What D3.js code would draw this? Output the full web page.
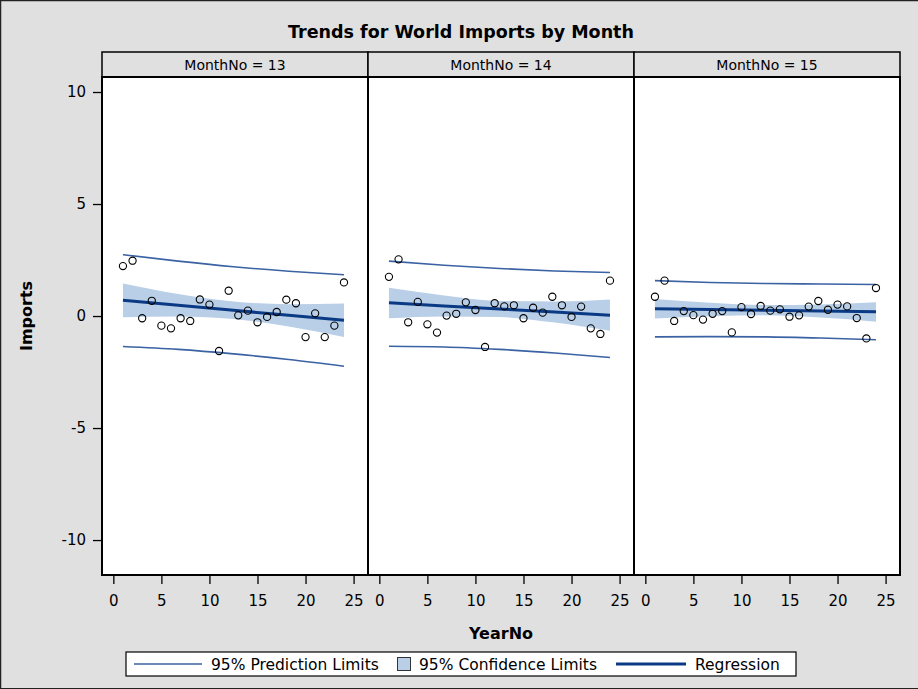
<!DOCTYPE html>
<html>
<head>
<meta charset="utf-8">
<script src="https://cdn.jsdelivr.net/npm/d3@7"></script>
<style>
  body { margin: 0; background: #e0e0e0; }
  svg { display: block; }
  text { font-family: "DejaVu Sans", sans-serif; fill: #000; }
</style>
</head>
<body>
<svg id="chart" width="918" height="689"></svg>
<script>
// ---------------- DATA ----------------
const monthNos = [13, 14, 15];
const yearNo = [1,2,3,4,5,6,7,8,9,10,11,12,13,14,15,16,17,18,19,20,21,22,23,24];

const imports13 = [2.23, 2.47, -0.10, 0.68, -0.43, -0.55, -0.10, -0.22, 0.74, 0.51, -1.56, 1.13,
                   0.03, 0.24, -0.28, -0.04, 0.18, 0.73, 0.57, -0.94, 0.12, -0.94, -0.43, 1.50];
const imports14 = [1.75, 2.53, -0.28, 0.63, -0.37, -0.74, 0.02, 0.10, 0.61, 0.27, -1.38, 0.57,
                   0.43, 0.48, -0.10, 0.37, 0.15, 0.86, 0.48, -0.04, 0.42, -0.55, -0.80, 1.58];
const imports15 = [0.86, 1.58, -0.22, 0.22, 0.04, -0.16, 0.10, 0.22, -0.73, 0.40, 0.09, 0.45,
                   0.24, 0.30, -0.03, 0.03, 0.42, 0.67, 0.28, 0.51, 0.43, -0.09, -1.00, 1.25];

// fit / limits read at these YearNo positions
const fitYears = [1, 6.75, 12.5, 18.25, 24];

const fit13     = [0.70, 0.48, 0.255, 0.03, -0.19];
const clUpper13 = [1.45, 0.98, 0.645, 0.53, 0.56];
const clLower13 = [-0.05, -0.02, -0.135, -0.47, -0.94];
const plUpper13 = [2.74, 2.45, 2.20, 2.00, 1.84];
const plLower13 = [-1.36, -1.49, -1.69, -1.94, -2.24];

const fit14     = [0.59, 0.45, 0.315, 0.18, 0.04];
const clUpper14 = [1.26, 0.92, 0.675, 0.65, 0.74];
const clLower14 = [-0.10, -0.02, -0.045, -0.29, -0.66];
const plUpper14 = [2.45, 2.27, 2.12, 2.01, 1.94];
const plLower14 = [-1.35, -1.38, -1.49, -1.65, -1.85];

const fit15     = [0.33, 0.295, 0.26, 0.225, 0.19];
const clUpper15 = [0.76, 0.59, 0.49, 0.52, 0.62];
const clLower15 = [-0.11, -0.01, 0.03, -0.07, -0.25];
const plUpper15 = [1.58, 1.50, 1.45, 1.43, 1.41];
const plLower15 = [-0.93, -0.92, -0.93, -0.98, -1.06];

const xTicks = [0, 5, 10, 15, 20, 25];
const yTicks = [-10, -5, 0, 5, 10];
const legendLabels = ["95% Prediction Limits", "95% Confidence Limits", "Regression"];
const titleText = "Trends for World Imports by Month";

// ---------------- BUILD ----------------
const panels = [
  { month: 13, y: imports13, fit: fit13, clu: clUpper13, cll: clLower13, plu: plUpper13, pll: plLower13 },
  { month: 14, y: imports14, fit: fit14, clu: clUpper14, cll: clLower14, plu: plUpper14, pll: plLower14 },
  { month: 15, y: imports15, fit: fit15, clu: clUpper15, cll: clLower15, plu: plUpper15, pll: plLower15 }
];

const C = {
  bg: "#e0e0e0",
  band: "#b9cfe7",
  pl: "#3b62a3",
  fit: "#0b3a85"
};

const fmt = d => String(d);   // plain hyphen-minus like the reference

const svg = d3.select("#chart");
const W = 918, H = 689;

svg.append("rect").attr("x", 0).attr("y", 0).attr("width", W).attr("height", H).attr("fill", C.bg);
// outer frame
svg.append("path").attr("d", `M0.5,${H-0.5} V0.5 H${W}`).attr("fill", "none").attr("stroke", "#222").attr("stroke-width", 1.5);
svg.append("line").attr("x1", 0).attr("x2", W).attr("y1", H - 0.5).attr("y2", H - 0.5).attr("stroke", "#222").attr("stroke-width", 1);

const gridLeft = 102, gridRight = 900;
const headerTop = 52, plotTop = 77, plotBottom = 575;
const panelW = (gridRight - gridLeft) / monthNos.length;

const y = d3.scaleLinear().domain([-11.56, 10.67]).range([plotBottom, plotTop]);

// title
svg.append("text").attr("x", 461).attr("y", 38).attr("text-anchor", "middle")
  .attr("font-size", 17.5).attr("font-weight", "bold").text(titleText);

panels.forEach((p, i) => {
  const left = gridLeft + i * panelW;
  const x = d3.scaleLinear().domain([-1.18, 26.5]).range([left, left + panelW]);
  const g = svg.append("g");

  const clipId = "clip" + i;
  svg.append("clipPath").attr("id", clipId).append("rect")
    .attr("x", left).attr("y", plotTop).attr("width", panelW).attr("height", plotBottom - plotTop);

  // header cell
  g.append("rect").attr("x", left).attr("y", headerTop).attr("width", panelW).attr("height", plotTop - headerTop)
    .attr("fill", C.bg).attr("stroke", "#000").attr("stroke-width", 1.5);
  g.append("text").attr("x", left + panelW / 2).attr("y", (headerTop + plotTop) / 2 + 5)
    .attr("text-anchor", "middle").attr("font-size", 14).text(`MonthNo = ${p.month}`);

  // plot area
  g.append("rect").attr("x", left).attr("y", plotTop).attr("width", panelW).attr("height", plotBottom - plotTop)
    .attr("fill", "#fff");

  const inner = g.append("g").attr("clip-path", `url(#${clipId})`);
  const rows = fitYears.map((yr, k) => ({ yr, fit: p.fit[k], clu: p.clu[k], cll: p.cll[k], plu: p.plu[k], pll: p.pll[k] }));

  inner.append("path").datum(rows)
    .attr("fill", C.band)
    .attr("d", d3.area().x(d => x(d.yr)).y0(d => y(d.cll)).y1(d => y(d.clu)).curve(d3.curveMonotoneX));

  ["plu", "pll"].forEach(key => {
    inner.append("path").datum(rows)
      .attr("fill", "none").attr("stroke", C.pl).attr("stroke-width", 1.6)
      .attr("d", d3.line().x(d => x(d.yr)).y(d => y(d[key])).curve(d3.curveMonotoneX));
  });

  inner.append("path").datum(rows)
    .attr("fill", "none").attr("stroke", C.fit).attr("stroke-width", 3)
    .attr("d", d3.line().x(d => x(d.yr)).y(d => y(d.fit)));

  inner.selectAll("circle.pt").data(yearNo.map((yr, k) => ({ yr, v: p.y[k] })))
    .join("circle").attr("class", "pt")
    .attr("cx", d => x(d.yr)).attr("cy", d => y(d.v)).attr("r", 3.6)
    .attr("fill", "none").attr("stroke", "#000").attr("stroke-width", 1.1);

  // border of plot cell
  g.append("rect").attr("x", left).attr("y", plotTop).attr("width", panelW).attr("height", plotBottom - plotTop)
    .attr("fill", "none").attr("stroke", "#000").attr("stroke-width", 2);

  // x axis
  const xa = g.append("g").attr("transform", `translate(0,${plotBottom + 1})`)
    .call(d3.axisBottom(x).tickValues(xTicks).tickSize(8).tickPadding(11).tickFormat(fmt));
  xa.select(".domain").remove();
  xa.selectAll("line").attr("stroke", "#000").attr("stroke-width", 1.3);
  xa.selectAll("text").attr("font-size", 15).attr("font-family", "DejaVu Sans, sans-serif").attr("fill", "#000");

  if (i === 0) {
    const ya = g.append("g").attr("transform", `translate(${left - 1},0)`)
      .call(d3.axisLeft(y).tickValues(yTicks).tickSize(8).tickPadding(7).tickFormat(fmt));
    ya.select(".domain").remove();
    ya.selectAll("line").attr("stroke", "#000").attr("stroke-width", 1.3);
    ya.selectAll("text").attr("font-size", 15).attr("font-family", "DejaVu Sans, sans-serif").attr("fill", "#000");
  }
});

// axis labels
svg.append("text").attr("x", 501).attr("y", 639).attr("text-anchor", "middle")
  .attr("font-size", 16).attr("font-weight", "bold").text("YearNo");
svg.append("text").attr("transform", "translate(32,316) rotate(-90)").attr("text-anchor", "middle")
  .attr("font-size", 16).attr("font-weight", "bold").text("Imports");

// legend
const lg = svg.append("g");
lg.append("rect").attr("x", 126).attr("y", 652).attr("width", 670).attr("height", 24)
  .attr("fill", "#fff").attr("stroke", "#000").attr("stroke-width", 1.2);
const ly = 664;
lg.append("line").attr("x1", 134).attr("x2", 202).attr("y1", ly).attr("y2", ly)
  .attr("stroke", C.pl).attr("stroke-width", 1.6);
lg.append("text").attr("x", 211).attr("y", ly + 5.5).attr("font-size", 15.5).text(legendLabels[0]);
lg.append("rect").attr("x", 397.5).attr("y", 657.5).attr("width", 13).attr("height", 13)
  .attr("fill", C.band).attr("stroke", "#333").attr("stroke-width", 1);
lg.append("text").attr("x", 419).attr("y", ly + 5.5).attr("font-size", 15.5).text(legendLabels[1]);
lg.append("line").attr("x1", 616).attr("x2", 686).attr("y1", ly).attr("y2", ly)
  .attr("stroke", C.fit).attr("stroke-width", 3);
lg.append("text").attr("x", 695).attr("y", ly + 5.5).attr("font-size", 15.5).text(legendLabels[2]);
</script>
</body>
</html>
